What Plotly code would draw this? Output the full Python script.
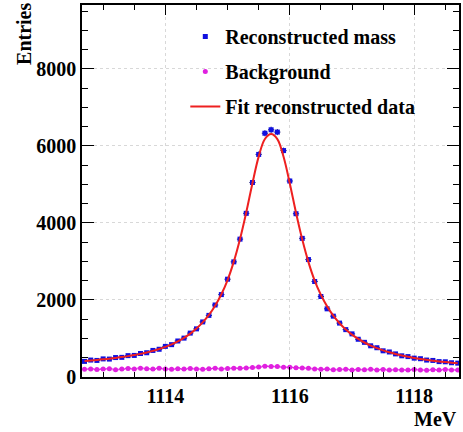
import plotly.graph_objects as go

# bin centres (MeV)
mass = [round(1112.7 + 0.1 * i, 1) for i in range(61)]

# reconstructed mass entries
reco = [405, 440, 430, 470, 465, 505, 510, 555, 560, 610,
        630, 690, 720, 795, 840, 935, 1010, 1140, 1250, 1430,
        1600, 1870, 2140, 2540, 2990, 3580, 4250, 5050, 5780, 6330,
        6420,
        6360, 5880, 5090, 4240, 3600, 3050, 2480, 2090, 1770, 1580,
        1400, 1230, 1120, 980, 900, 810, 760, 680, 650, 600,
        550, 530, 490, 475, 440, 430, 400, 395, 370, 360]

# background entries
background = [200, 210, 195, 205, 215, 190, 205, 220, 210, 230,
              215, 205, 225, 210, 200, 215, 205, 220, 210, 200,
              215, 225, 210, 220, 230, 225, 235, 245, 260, 280,
              275,
              270, 255, 250, 240, 235, 225, 210, 200, 205, 190,
              195, 200, 185, 195, 190, 200, 185, 195, 180, 190,
              185, 180, 195, 185, 175, 190, 180, 195, 185, 180]

# fitted curve
fit = [418, 430, 444, 459, 476, 496, 517, 542, 570, 601,
       637, 679, 727, 783, 849, 926, 1017, 1126, 1257, 1417,
       1612, 1852, 2149, 2518, 2996, 3585, 4274, 5033, 5722, 6181,
       6310,
       6179, 5718, 5027, 4266, 3575, 2984, 2504, 2133, 1834, 1592,
       1395, 1233, 1100, 989, 896, 817, 749, 691, 641, 597,
       559, 526, 496, 469, 446, 424, 405, 388, 372, 358]

x_ticks = [1114, 1116, 1118]
y_ticks = [0, 2000, 4000, 6000, 8000]

reco_err = [v ** 0.5 for v in reco]
bg_err = [v ** 0.5 for v in background]
half_bin = [0.05] * len(mass)

FONT = "Liberation Serif"

fig = go.Figure()
fig.add_trace(go.Scatter(
    x=mass, y=reco, mode="markers", name="Reconstructed mass",
    legendgroup="a",
    marker=dict(symbol="square", size=5, color="#1010e0"),
    error_x=dict(type="data", array=half_bin, color="#202070", thickness=1, width=0),
    error_y=dict(type="data", array=reco_err, color="#202070", thickness=1, width=0),
))
fig.add_trace(go.Scatter(
    x=mass, y=background, mode="markers", name="Background",
    legendgroup="b",
    marker=dict(symbol="circle", size=5, color="#e020e0"),
    error_x=dict(type="data", array=half_bin, color="#e020e0", thickness=1.5, width=0),
    error_y=dict(type="data", array=bg_err, color="#e020e0", thickness=1, width=0),
))
fig.add_trace(go.Scatter(
    x=mass, y=fit, mode="lines", name="Fit reconstructed data",
    legendgroup="c",
    line=dict(color="#ee2020", width=2, shape="spline"),
))

axis_common = dict(
    showline=True, linecolor="black", linewidth=1.5, mirror="ticks",
    ticks="inside", tickcolor="black", tickwidth=1.2,
    showgrid=True, gridcolor="#d8d8d8", griddash="dot", gridwidth=1,
    zeroline=False,
    tickfont=dict(family=FONT, size=20, color="black", weight="bold"),
)

fig.update_xaxes(
    range=[1112.66, 1118.72], tickmode="array", tickvals=x_ticks,
    ticktext=[str(v) for v in x_ticks], ticklen=10,
    minor=dict(dtick=0.5, tick0=1114, ticks="inside", ticklen=5,
               tickcolor="black", showgrid=False),
    **axis_common,
)
fig.update_yaxes(
    range=[0, 9660], tickmode="array", tickvals=y_ticks,
    ticktext=[str(v) for v in y_ticks], ticklen=12,
    minor=dict(dtick=500, tick0=0, ticks="inside", ticklen=6,
               tickcolor="black", showgrid=False),
    **axis_common,
)

fig.add_annotation(text="Entries", xref="paper", yref="paper",
                   x=-0.154, y=0.922, textangle=-90, showarrow=False,
                   xanchor="center", yanchor="middle",
                   font=dict(family=FONT, size=20, color="black", weight="bold"))
fig.add_annotation(text="MeV", xref="paper", yref="paper",
                   x=1.0, y=-0.078, showarrow=False,
                   xanchor="right", yanchor="top",
                   font=dict(family=FONT, size=20, color="black", weight="bold"))

fig.update_layout(
    width=463, height=432,
    margin=dict(l=82, r=2, t=5, b=55),
    paper_bgcolor="white", plot_bgcolor="white",
    showlegend=True,
    legend=dict(x=0.274, y=0.968, xanchor="left", yanchor="top",
                bgcolor="rgba(0,0,0,0)", tracegroupgap=6,
                font=dict(family=FONT, size=20, color="black", weight="bold")),
)

fig.write_html("out.html", config={"displayModeBar": False},
               post_script="document.body.style.margin='0';document.body.style.padding='0';")
